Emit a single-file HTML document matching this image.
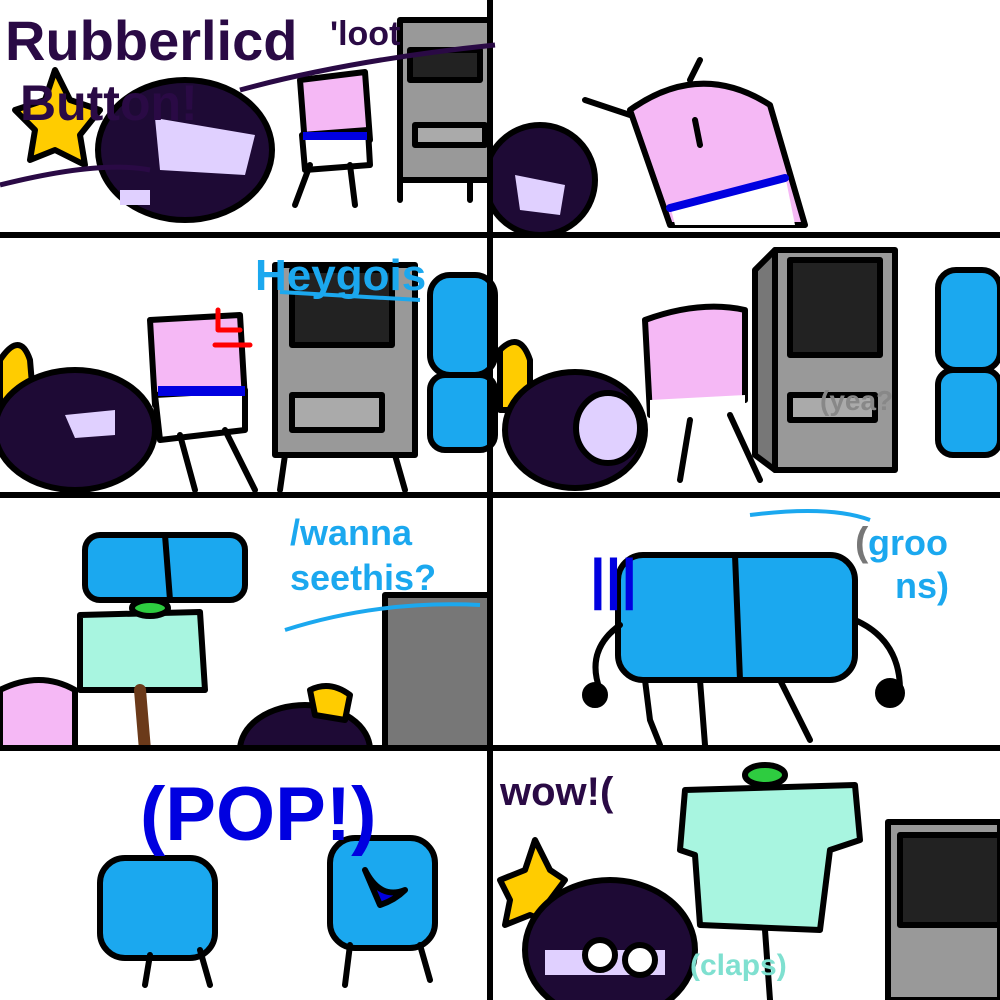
<!DOCTYPE html>
<html><head><meta charset="utf-8"><style>
html,body{margin:0;padding:0;background:#fff;width:1000px;height:1000px;overflow:hidden}
svg{display:block}
text{font-family:"Liberation Sans",sans-serif;font-weight:bold}
</style></head><body>
<svg width="1000" height="1000" viewBox="0 0 1000 1000" xmlns="http://www.w3.org/2000/svg">
<defs>
<clipPath id="p5"><rect x="0" y="495" width="490" height="253"/></clipPath>
<clipPath id="p2"><rect x="490" y="0" width="510" height="235"/></clipPath>
</defs>
<rect width="1000" height="1000" fill="#fff"/>
<g stroke="#000" stroke-width="6" stroke-linejoin="round" stroke-linecap="round">
<!-- Panel 1 -->
<polygon points="55,70 70,100 100,110 80,135 85,165 55,150 30,160 35,130 15,110 45,100" fill="#ffcc00"/>
<ellipse cx="185" cy="150" rx="87" ry="70" fill="#1e0a35"/>
<path d="M155,118 L255,135 L245,175 L160,170 Z" fill="#e0d0ff" stroke="none"/>
<rect x="120" y="190" width="30" height="15" fill="#e0d0ff" stroke="none"/>
<path d="M300,80 L365,72 L370,140 L305,145 Z" fill="#f5b8f5"/>
<path d="M302,135 L368,130 L370,165 L305,170 Z" fill="#fff"/>
<rect x="303" y="132" width="64" height="8" fill="#0000e0" stroke="none"/>
<path d="M310,165 L295,205 M350,165 L355,205" fill="none"/>
<rect x="400" y="20" width="90" height="160" fill="#999"/>
<rect x="410" y="50" width="70" height="30" fill="#222"/>
<rect x="415" y="125" width="70" height="20" fill="#aaa"/>
<path d="M400,180 L400,200 M470,180 L470,200" fill="none"/>
<!-- Panel 2 -->
<g clip-path="url(#p2)">
<ellipse cx="540" cy="180" rx="55" ry="55" fill="#1e0a35"/>
<path d="M515,175 L565,185 L560,215 L520,210 Z" fill="#e0d0ff" stroke="none"/>
</g>
<path d="M630,110 Q700,60 770,105 L805,225 L670,225 Z" fill="#f5b8f5"/>
<path d="M670,205 L785,175 L795,225 L675,225 Z" fill="#fff" stroke="none"/>
<path d="M670,208 L785,178" stroke="#0000e0" stroke-width="8" fill="none"/>
<path d="M585,100 L630,115 M690,80 L700,60 M695,120 L700,145" fill="none"/>
<!-- Panel 3 -->
<path d="M0,360 Q20,330 30,360 L35,420 L0,430 Z" fill="#ffcc00"/>
<ellipse cx="75" cy="430" rx="80" ry="60" fill="#1e0a35"/>
<path d="M65,415 L115,410 L115,435 L75,438 Z" fill="#e0d0ff" stroke="none"/>
<path d="M150,320 L240,315 L245,400 L155,405 Z" fill="#f5b8f5"/>
<path d="M155,395 L245,390 L245,430 L160,440 Z" fill="#fff"/>
<rect x="158" y="386" width="87" height="10" fill="#0000e0" stroke="none"/>
<path d="M180,435 L195,490 M225,430 L255,490" fill="none"/>
<rect x="275" y="265" width="140" height="190" fill="#999"/>
<rect x="292" y="270" width="100" height="75" fill="#222"/>
<rect x="292" y="395" width="90" height="35" fill="#aaa"/>
<path d="M285,455 L280,490 M395,455 L405,490" fill="none"/>
<rect x="430" y="275" width="65" height="100" rx="20" fill="#1ba8ef"/>
<rect x="430" y="375" width="65" height="75" rx="15" fill="#1ba8ef"/>
<path d="M218,310 L218,330 L240,330 M215,345 L250,345" stroke="#f00" stroke-width="5" fill="none"/>
<!-- Panel 4 -->
<path d="M500,350 Q520,330 530,360 L530,410 L500,410 Z" fill="#ffcc00"/>
<ellipse cx="575" cy="430" rx="70" ry="58" fill="#1e0a35"/>
<ellipse cx="608" cy="428" rx="32" ry="35" fill="#e0d0ff"/>
<path d="M645,320 Q700,300 745,310 L745,400 L650,415 Z" fill="#f5b8f5"/>
<path d="M650,400 L745,395 L745,420 L650,425 Z" fill="#fff" stroke="none"/>
<path d="M690,420 L680,480 M730,415 L760,480" fill="none"/>
<rect x="775" y="250" width="120" height="220" fill="#999"/>
<path d="M755,270 L775,250 L775,470 L755,455 Z" fill="#777"/>
<rect x="790" y="260" width="90" height="95" fill="#222"/>
<rect x="790" y="395" width="85" height="25" fill="#aaa"/>
<rect x="938" y="270" width="62" height="100" rx="18" fill="#1ba8ef"/>
<rect x="938" y="370" width="62" height="85" rx="15" fill="#1ba8ef"/>
<!-- Panel 5 -->
<g clip-path="url(#p5)">
<path d="M0,690 Q40,670 75,690 L75,750 L0,750 Z" fill="#f5b8f5"/>
<rect x="85" y="535" width="160" height="65" rx="15" fill="#1ba8ef"/>
<path d="M165,535 L170,600" fill="none"/>
<path d="M80,615 L200,612 L205,690 L80,690 Z" fill="#a8f5e0"/>
<path d="M140,690 L145,750" stroke="#6b3a1a" stroke-width="12" fill="none"/>
<ellipse cx="150" cy="608" rx="18" ry="8" fill="#2ecc40"/>
<rect x="385" y="595" width="105" height="160" fill="#777"/>
<ellipse cx="305" cy="750" rx="65" ry="45" fill="#1e0a35"/>
<path d="M310,690 Q330,680 350,695 L345,720 L315,715 Z" fill="#ffcc00"/>
</g>
<!-- Panel 6 -->
<rect x="618" y="555" width="237" height="125" rx="25" fill="#1ba8ef"/>
<path d="M735,555 L740,680" fill="none"/>
<path d="M645,680 L650,720 L660,745 M700,680 L705,745 M780,680 L810,740 M855,620 Q900,640 900,690 M620,625 Q585,650 600,690" fill="none"/>
<circle cx="890" cy="693" r="12" fill="#000"/>
<circle cx="595" cy="695" r="10" fill="#000"/>
<!-- Panel 7 -->
<rect x="100" y="858" width="115" height="100" rx="25" fill="#1ba8ef"/>
<rect x="330" y="838" width="105" height="110" rx="25" fill="#1ba8ef"/>
<path d="M365,870 Q380,900 405,890 Q395,900 380,905 Z" fill="#0000e0"/>
<path d="M150,955 L145,985 M200,950 L210,985 M350,945 L345,985 M420,945 L430,980" fill="none"/>
<!-- Panel 8 -->
<polygon points="535,840 550,870 565,880 550,900 555,925 530,915 505,925 510,900 500,880 525,870" fill="#ffcc00"/>
<ellipse cx="610" cy="950" rx="85" ry="70" fill="#1e0a35"/>
<rect x="545" y="950" width="120" height="25" fill="#e0d0ff" stroke="none"/>
<circle cx="600" cy="955" r="15" fill="#fff"/>
<circle cx="640" cy="960" r="15" fill="#fff"/>
<path d="M685,790 L855,785 L860,840 L830,850 L820,930 L700,925 L695,855 L680,850 Z" fill="#a8f5e0"/>
<path d="M765,930 L770,1000" fill="none"/>
<ellipse cx="765" cy="775" rx="20" ry="10" fill="#2ecc40"/>
<rect x="888" y="822" width="112" height="178" fill="#999"/>
<rect x="900" y="835" width="100" height="90" fill="#222"/>
</g>
<!-- dividers -->
<g fill="#000">
<rect x="0" y="232" width="1000" height="6"/>
<rect x="0" y="492" width="1000" height="6"/>
<rect x="0" y="745" width="1000" height="6"/>
<rect x="487" y="0" width="6" height="1000"/>
</g>
<!-- text -->
<text x="5" y="60" font-size="56" fill="#2a0a45">Rubberlicd</text>
<text x="330" y="45" font-size="34" fill="#2a0a45">'loot</text>
<text x="20" y="120" font-size="50" fill="#2a0a45">Button!</text>
<path d="M0,185 Q100,160 150,170 M240,90 Q350,60 495,45" stroke="#2a0a45" stroke-width="5" fill="none"/>
<text x="255" y="290" font-size="44" fill="#1ba8ef">Heygois</text>
<path d="M280,292 L420,300" stroke="#1ba8ef" stroke-width="4"/>
<text x="820" y="410" font-size="28" fill="#888">(yea?</text>
<text x="290" y="545" font-size="36" fill="#1ba8ef">/wanna</text>
<text x="290" y="590" font-size="36" fill="#1ba8ef">seethis?</text>
<path d="M285,630 Q380,600 480,605" stroke="#1ba8ef" stroke-width="4" fill="none"/>
<text x="590" y="598" font-size="56" fill="#0000e0">|||</text>
<text x="855" y="555" font-size="40" fill="#777">(</text>
<text x="868" y="555" font-size="36" fill="#1ba8ef">groo</text>
<text x="895" y="598" font-size="36" fill="#1ba8ef">ns)</text>
<path d="M750,515 Q830,505 870,520" stroke="#1ba8ef" stroke-width="4" fill="none"/>
<text x="140" y="840" font-size="76" fill="#0000e0">(POP!)</text>
<text x="500" y="805" font-size="40" fill="#2a0a45">wow!(</text>
<text x="690" y="975" font-size="30" fill="#7fe0d0">(claps)</text>
</svg>
</body></html>
